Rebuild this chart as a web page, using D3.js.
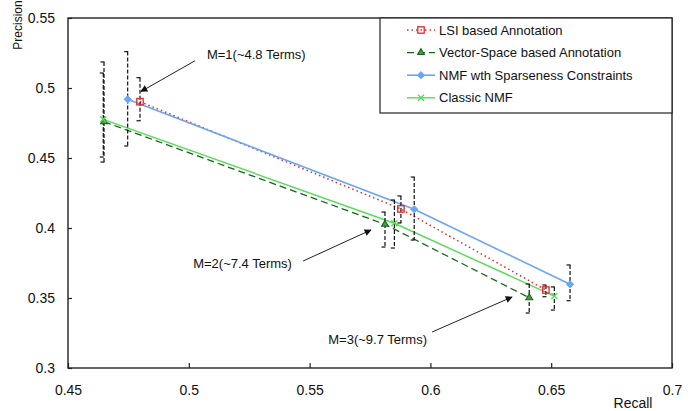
<html>
<head>
  <meta charset="UTF-8">
  <title>Precision vs Recall</title>
  <script src="https://d3js.org/d3.v7.min.js"></script>
  <style>
    body { margin: 0; background: #fff; }
    text { font-family: "Liberation Sans", Arial, sans-serif; fill: #111; }
  </style>
</head>
<body>
<div id="chart"></div>

<script>
// ---- data ----
var seriesNames = ["LSI based Annotation", "Vector-Space based Annotation",
                   "NMF wth Sparseness Constraints", "Classic NMF"];

var lsiRecall = [0.4798, 0.5878, 0.6478];
var lsiPrec   = [0.4902, 0.4136, 0.3557];
var lsiHigh   = [0.5074, 0.4229, 0.3593];
var lsiLow    = [0.4766, 0.4036, 0.3509];

var vsRecall = [0.4649, 0.5812, 0.6409];
var vsPrec   = [0.4759, 0.4026, 0.3502];
var vsHigh   = [0.5186, 0.4114, 0.3600];
var vsLow    = [0.4471, 0.3864, 0.3393];

var nmfsRecall = [0.4747, 0.5933, 0.6578];
var nmfsPrec   = [0.4919, 0.4134, 0.3598];
var nmfsHigh   = [0.5260, 0.4364, 0.3736];
var nmfsLow    = [0.4586, 0.3914, 0.3481];

var nmfRecall = [0.4646, 0.5851, 0.6513];
var nmfPrec   = [0.4776, 0.4034, 0.3514];
var nmfHigh   = [0.5107, 0.4200, 0.3579];
var nmfLow    = [0.4507, 0.3857, 0.3414];

var xTicks = [0.45, 0.5, 0.55, 0.6, 0.65, 0.7];
var yTicks = [0.3, 0.35, 0.4, 0.45, 0.5, 0.55];

// annotations, in data units (text anchor + arrow tail/head)
var noteLabels = ["M=1(~4.8 Terms)", "M=2(~7.4 Terms)", "M=3(~9.7 Terms)"];
var noteText   = [[0.5075, 0.5207], [0.5427, 0.3714], [0.5986, 0.3171]];
var noteAnchor = ["start", "end", "end"];
var noteFrom   = [[0.5026, 0.5195], [0.5473, 0.3764], [0.6007, 0.3257]];
var noteTo     = [[0.4802, 0.4975], [0.5754, 0.3986], [0.6338, 0.3507]];

// ---- layout ----
var W = 697, H = 411;
var margin = {top: 18, right: 25, bottom: 43, left: 68},
    width = W - margin.left - margin.right,
    height = H - margin.top - margin.bottom;

var svg = d3.select("#chart").append("svg")
  .attr("width", W)
  .attr("height", H);

var g = svg.append("g")
  .attr("transform", "translate(" + margin.left + "," + margin.top + ")");

var xScale = d3.scaleLinear().domain([0.45, 0.7]).range([0, width]);
var yScale = d3.scaleLinear().domain([0.3, 0.55]).range([height, 0]);

// axes (ticks point inwards)
var xAxis = d3.axisBottom(xScale).tickValues(xTicks)
  .tickSizeInner(-5).tickSizeOuter(0).tickPadding(17)
  .tickFormat(d3.format("~g"));
var yAxis = d3.axisLeft(yScale).tickValues(yTicks)
  .tickSizeInner(-4).tickSizeOuter(0).tickPadding(13)
  .tickFormat(d3.format("~g"));

var gx = g.append("g").attr("transform", "translate(0," + height + ")").call(xAxis);
var gy = g.append("g").call(yAxis);
[gx, gy].forEach(function(a) {
  a.select(".domain").remove();
  a.selectAll("line").attr("stroke", "#222").attr("stroke-width", 1.2);
  a.selectAll("text").attr("font-size", 14).attr("fill", "#111")
    .style("font-family", "Liberation Sans, Arial, sans-serif");
});

// frame
g.append("rect")
  .attr("width", width).attr("height", height)
  .attr("fill", "none").attr("stroke", "#222").attr("stroke-width", 1.4);

// axis titles
svg.append("text")
  .attr("transform", "translate(22,25) rotate(-90)")
  .attr("text-anchor", "middle")
  .attr("font-size", 12)
  .text("Precision");

svg.append("text")
  .attr("x", 633).attr("y", 408)
  .attr("text-anchor", "middle")
  .attr("font-size", 14)
  .text("Recall");

// ---- series ----
var series = [
  {name: seriesNames[0], r: lsiRecall, p: lsiPrec, hi: lsiHigh, lo: lsiLow,
   color: "#e5262a", dash: "1.5,3", width: 1.5, marker: "square"},
  {name: seriesNames[1], r: vsRecall, p: vsPrec, hi: vsHigh, lo: vsLow,
   color: "#17651a", dash: "7,4", width: 1.3, marker: "triangle"},
  {name: seriesNames[2], r: nmfsRecall, p: nmfsPrec, hi: nmfsHigh, lo: nmfsLow,
   color: "#6aa6f4", dash: null, width: 1.6, marker: "diamond"},
  {name: seriesNames[3], r: nmfRecall, p: nmfPrec, hi: nmfHigh, lo: nmfLow,
   color: "#55dd55", dash: null, width: 1.4, marker: "cross"}
];

series.forEach(function(s) {
  s.pts = s.r.map(function(r, i) {
    return {r: r, p: s.p[i], hi: s.hi[i], lo: s.lo[i]};
  });
});

var line = d3.line()
  .x(function(d) { return xScale(d.r); })
  .y(function(d) { return yScale(d.p); });

// lines
series.forEach(function(s) {
  g.append("path")
    .datum(s.pts)
    .attr("d", line)
    .attr("fill", "none")
    .attr("stroke", s.color)
    .attr("stroke-width", s.width)
    .attr("stroke-dasharray", s.dash);
});

// error bars
series.forEach(function(s) {
  var eb = g.append("g").selectAll("g").data(s.pts).enter().append("g");
  eb.append("line")
    .attr("x1", function(d) { return xScale(d.r); })
    .attr("x2", function(d) { return xScale(d.r); })
    .attr("y1", function(d) { return yScale(d.hi); })
    .attr("y2", function(d) { return yScale(d.lo); })
    .attr("stroke", "#111").attr("stroke-width", 1.2)
    .attr("stroke-dasharray", "4,2");
  ["hi", "lo"].forEach(function(k) {
    eb.append("line")
      .attr("x1", function(d) { return xScale(d.r) - 3.5; })
      .attr("x2", function(d) { return xScale(d.r) + 0.5; })
      .attr("y1", function(d) { return yScale(d[k]); })
      .attr("y2", function(d) { return yScale(d[k]); })
      .attr("stroke", "#111").attr("stroke-width", 1.2);
  });
});

// markers
function drawMarker(sel, type, color) {
  if (type === "square") {
    sel.append("rect").attr("x", -3.2).attr("y", -3.2).attr("width", 6.4).attr("height", 6.4)
      .attr("fill", "none").attr("stroke", color).attr("stroke-width", 1.3);
  } else if (type === "triangle") {
    sel.append("path").attr("d", d3.symbol().type(d3.symbolTriangle).size(20))
      .attr("fill", "#4d9a4d").attr("stroke", color).attr("stroke-width", 1.1);
  } else if (type === "diamond") {
    sel.append("path").attr("d", "M0,-3.6L3.6,0L0,3.6L-3.6,0Z")
      .attr("fill", color).attr("stroke", color).attr("stroke-width", 1);
  } else {
    sel.append("path").attr("d", "M-3,-3L3,3M-3,3L3,-3")
      .attr("stroke", color).attr("stroke-width", 1.4);
  }
}

series.forEach(function(s) {
  var m = g.append("g").selectAll("g").data(s.pts).enter().append("g")
    .attr("transform", function(d) {
      return "translate(" + xScale(d.r) + "," + yScale(d.p) + ")";
    });
  drawMarker(m, s.marker, s.color);
});

// ---- annotations ----
svg.append("defs").append("marker")
  .attr("id", "arrow")
  .attr("viewBox", "0 0 10 10")
  .attr("refX", 9).attr("refY", 5)
  .attr("markerWidth", 9).attr("markerHeight", 7)
  .attr("markerUnits", "userSpaceOnUse")
  .attr("orient", "auto")
  .append("path").attr("d", "M0,0L10,5L0,10Z").attr("fill", "#111");

noteLabels.forEach(function(lbl, i) {
  g.append("line")
    .attr("x1", xScale(noteFrom[i][0])).attr("y1", yScale(noteFrom[i][1]))
    .attr("x2", xScale(noteTo[i][0])).attr("y2", yScale(noteTo[i][1]))
    .attr("stroke", "#222").attr("stroke-width", 1)
    .attr("marker-end", "url(#arrow)");
  g.append("text")
    .attr("x", xScale(noteText[i][0])).attr("y", yScale(noteText[i][1]))
    .attr("text-anchor", noteAnchor[i])
    .attr("font-size", 13)
    .text(lbl);
});

// ---- legend ----
var lg = g.append("g").attr("transform", "translate(" + (380 - margin.left) + ",0)");
lg.append("rect")
  .attr("width", width - (380 - margin.left)).attr("height", 95)
  .attr("fill", "#fff").attr("stroke", "#222").attr("stroke-width", 1.2);

series.forEach(function(s, i) {
  var row = lg.append("g").attr("transform", "translate(0," + (12 + i * 22.6) + ")");
  row.append("line")
    .attr("x1", 27).attr("x2", 55)
    .attr("stroke", s.color).attr("stroke-width", s.width)
    .attr("stroke-dasharray", s.dash);
  var mk = row.append("g").attr("transform", "translate(41,0)");
  drawMarker(mk, s.marker, s.color);
  row.append("text")
    .attr("x", 59).attr("y", 4.6)
    .attr("font-size", 13)
    .text(s.name);
});
</script>
</body>
</html>
